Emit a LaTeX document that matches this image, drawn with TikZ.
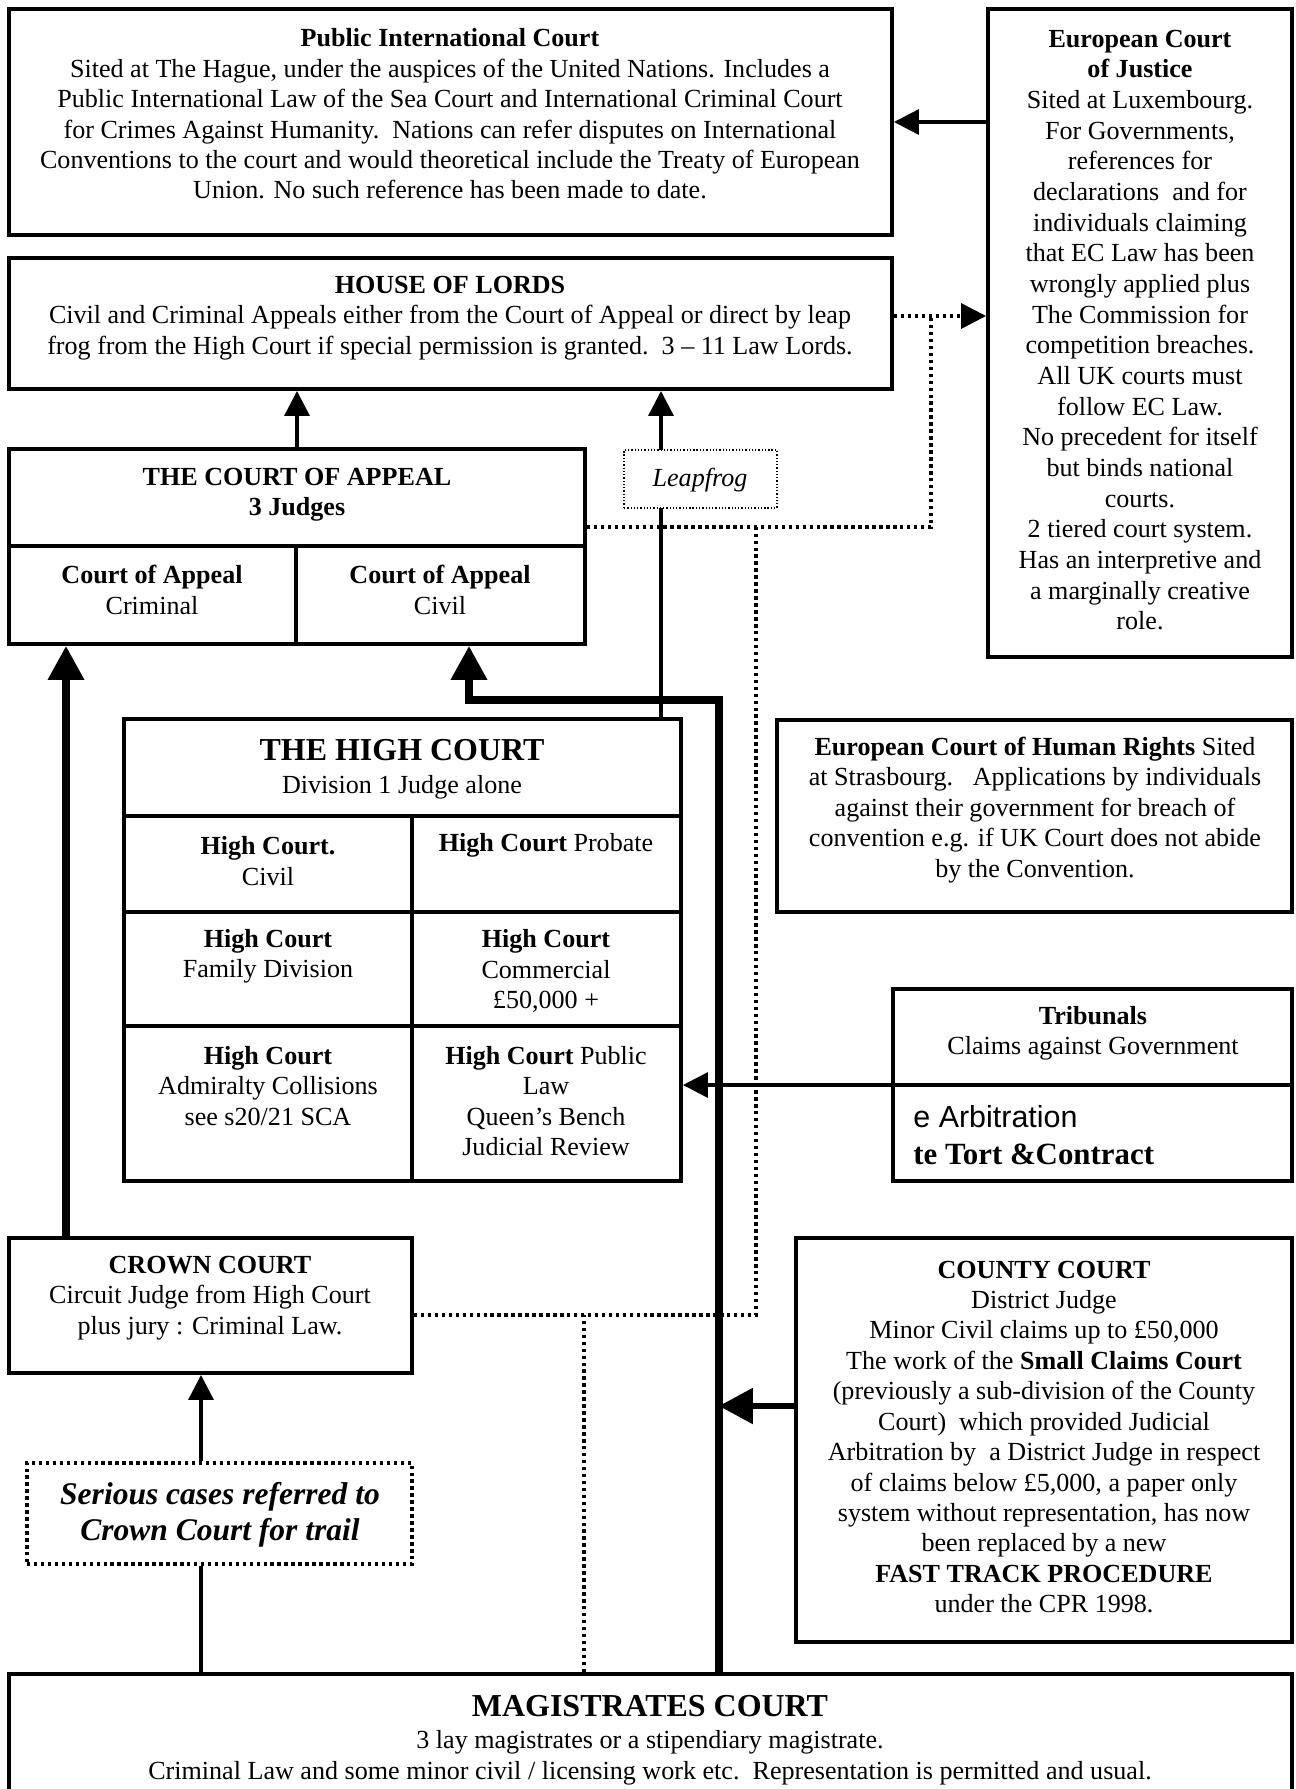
\documentclass[tikz,border=0pt]{standalone}
\usepackage{fontspec}
\setmainfont{Liberation Serif}
\newfontfamily\arialfont{Liberation Sans}
\usetikzlibrary{arrows.meta,positioning,fit,calc}

\begin{document}
\begin{tikzpicture}[x=0.46pt, y=-0.46pt,
  frame/.style={draw, line width=1.8pt, inner sep=0pt},
  split/.style={line width=1.5pt},
  txt/.style={align=center, inner sep=0pt, font=\fontsize{12}{#1}\selectfont},
  txt/.default=14pt,
  link/.style={line width=1.5pt, -{Triangle[length=11.5pt, width=11.5pt]}},
  heavy/.style={line width=3.4pt, -{Triangle[length=15.6pt, width=16pt]}},
  refline/.style={line width=1.6pt, dash pattern=on 1.6pt off 1.6pt},
]
\fill[white] (0,0) rectangle (1296,1789);
\useasboundingbox (0,0) rectangle (1296,1789);

% the courts
\node[frame, fit={(9,9) (892,235)}] (pic) {};
\node[txt] (pictxt) at (450,114) {\textbf{Public International Court}\\
  Sited at The Hague, under the auspices of the United Nations. Includes a\\
  Public International Law of the Sea Court and International Criminal Court\\
  for Crimes Against Humanity.\ \ Nations can refer disputes on International\\
  Conventions to the court and would theoretical include the Treaty of European\\
  Union. No such reference has been made to date.};

\node[frame, fit={(988,9) (1292,657)}] (ecj) {};
\node[txt=14.1pt] (ecjtxt) at (1140,330) {\textbf{European Court}\\ \textbf{of Justice}\\
  Sited at Luxembourg.\\ For Governments,\\ references for\\ declarations\ \ and for\\
  individuals claiming\\ that EC Law has been\\ wrongly applied plus\\ The Commission for\\
  competition breaches.\\ All UK courts must\\ follow EC Law.\\ No precedent for itself\\
  but binds national\\ courts.\\ 2 tiered court system.\\ Has an interpretive and\\
  a marginally creative\\ role.};

\node[frame, fit={(9,258) (892,389)}] (hol) {};
\node[txt] (holtxt) at (450,318) {\textbf{HOUSE OF LORDS}\\
  Civil and Criminal Appeals either from the Court of Appeal or direct by leap\\
  frog from the High Court if special permission is granted.\ \ 3 -- 11 Law Lords.};

\node[frame, fit={(9,449) (585,644)}] (coa) {};
\draw[split] (9,546) -- (585,546);
\draw[split] (296,546) -- (296,644);
\node[txt] (coatxt) at (297,495) {\textbf{THE COURT OF APPEAL}\\ \textbf{3 Judges}};
\node[txt] (coacrim) at (152,590) {\textbf{Court of Appeal}\\ Criminal};
\node[txt] (coaciv) at (440,590) {\textbf{Court of Appeal}\\ Civil};

\node[frame, fit={(124,719) (681,1181)}] (hc) {};
\draw[split] (124,816) -- (681,816);
\draw[split] (124,912) -- (681,912);
\draw[split] (124,1026) -- (681,1026);
\draw[split] (412,816) -- (412,1181);
\node[txt] (hctxt) at (402,769) {{\fontsize{14.7}{17}\selectfont\textbf{THE HIGH COURT}}\\[1pt]
  Division 1 Judge alone};
\node[txt] (hcciv) at (268,861) {\textbf{High Court.}\\ Civil};
\node[txt] (hcprob) at (546,845) {\textbf{High Court} Probate};
\node[txt] (hcfam) at (268,956) {\textbf{High Court}\\ Family Division};
\node[txt] (hccom) at (546,971) {\textbf{High Court}\\ Commercial\\ £50,000 +};
\node[txt] (hcadm) at (268,1086) {\textbf{High Court}\\ Admiralty Collisions\\ see s20/21 SCA};
\node[txt] (hcpub) at (546,1101) {\textbf{High Court} Public\\ Law\\ Queen’s Bench\\ Judicial Review};

\node[frame, fit={(777,720) (1292,912)}] (echr) {};
\node[txt] (echrtxt) at (1035,810) {\textbf{European Court of Human Rights} Sited\\
  at Strasbourg.\ \ \ Applications by individuals\\ against their government for breach of\\
  convention e.g. if UK Court does not abide\\ by the Convention.};

\node[frame, fit={(893,989) (1292,1181)}] (trib) {};
\draw[split] (893,1085) -- (1292,1085);
\node[txt] (tribtxt) at (1093,1033) {\textbf{Tribunals}\\ Claims against Government};
\node[anchor=west, inner sep=0pt, font=\arialfont\fontsize{14}{16}\selectfont] (arb) at (913,1117) {e Arbitration};
\node[anchor=west, inner sep=0pt, font=\fontsize{14.2}{16}\selectfont\bfseries] (tort) at (913,1154) {te Tort \&Contract};

\node[frame, fit={(9,1238) (412,1373)}] (crown) {};
\node[txt] (crowntxt) at (210,1298) {\textbf{CROWN COURT}\\ Circuit Judge from High Court\\ plus jury : Criminal Law.};

\node[frame, refline, fit={(27,1463) (412,1564)}] (serious) {};
\node[align=center, inner sep=0pt, font=\fontsize{14.5}{16.6}\selectfont\bfseries\itshape]
  (serioustxt) at (220,1515) {Serious cases referred to\\ Crown Court for trail};

\node[frame, fit={(796,1238) (1292,1642)}] (county) {};
\node[txt] (countytxt) at (1044,1437) {\textbf{COUNTY COURT}\\ District Judge\\
  Minor Civil claims up to £50,000\\ The work of the \textbf{Small Claims Court}\\
  (previously a sub-division of the County\\ Court)\ \ which provided Judicial\\
  Arbitration by\ \ a District Judge in respect\\ of claims below £5,000, a paper only\\
  system without representation, has now\\ been replaced by a new\\
  \textbf{FAST TRACK PROCEDURE}\\ under the CPR 1998.};

\node[frame, fit={(9,1674) (1292,1810)}] (mag) {};
\node[txt] (magtxt) at (650,1740) {{\fontsize{14.7}{17}\selectfont\textbf{MAGISTRATES COURT}}\\[1pt]
  3 lay magistrates or a stipendiary magistrate.\\
  Criminal Law and some minor civil / licensing work etc.\ \ Representation is permitted and usual.};

% routes of appeal
\coordinate (lx) at (66,0);
\coordinate (sx) at (201,0);
\coordinate (lf) at (661,0);
\coordinate (kink) at (469,700);
\coordinate (spine) at (719,700);
\coordinate (cc) at (796,1406);
\coordinate (ts) at (893,1085);
\coordinate (j1) at (931,316);
\coordinate (j2) at (931,527);
\coordinate (j3) at (756,527);
\coordinate (j4) at (756,1315);
\coordinate (j5) at (584,1315);

\draw[link] (ecj.west |- pic.east) -- (pic.east);
\draw[link] (coa.north) -- (coa.north |- hol.south);
\draw[link] (hc.north -| lf) -- (hol.south -| lf);
\draw[link] (ts) -- (ts -| hc.east);
\draw[link] (serious.north -| sx) -- (crown.south -| sx);
\draw[line width=1.5pt] (mag.north -| sx) -- (serious.south -| sx);

\draw[heavy] (crown.north -| lx) -- (coa.south -| lx);
\draw[heavy] (mag.north -| spine) -- (spine) -- (kink) -- (coa.south -| kink);
\draw[heavy, line width=2.8pt] (cc) -- (cc -| spine);

\draw[refline, -{Triangle[length=11.5pt, width=11.5pt]}] (hol.east |- j1) -- (j1 -| ecj.west);
\draw[refline] (coa.east |- j2) -- (j2) -- (j1);
\draw[refline] (crown.east |- j4) -- (j4) -- (j3);
\draw[refline] (mag.north -| j5) -- (j5);

\node[draw, line width=0.5pt, dash pattern=on 0.6pt off 0.9pt, fill=white, inner sep=0pt,
  fit={(624,450) (777,508)}] (leap) {};
\node[inner sep=0pt, font=\fontsize{12}{14}\selectfont\itshape] (leaptxt) at (700,480) {Leapfrog};
\end{tikzpicture}
\end{document}
